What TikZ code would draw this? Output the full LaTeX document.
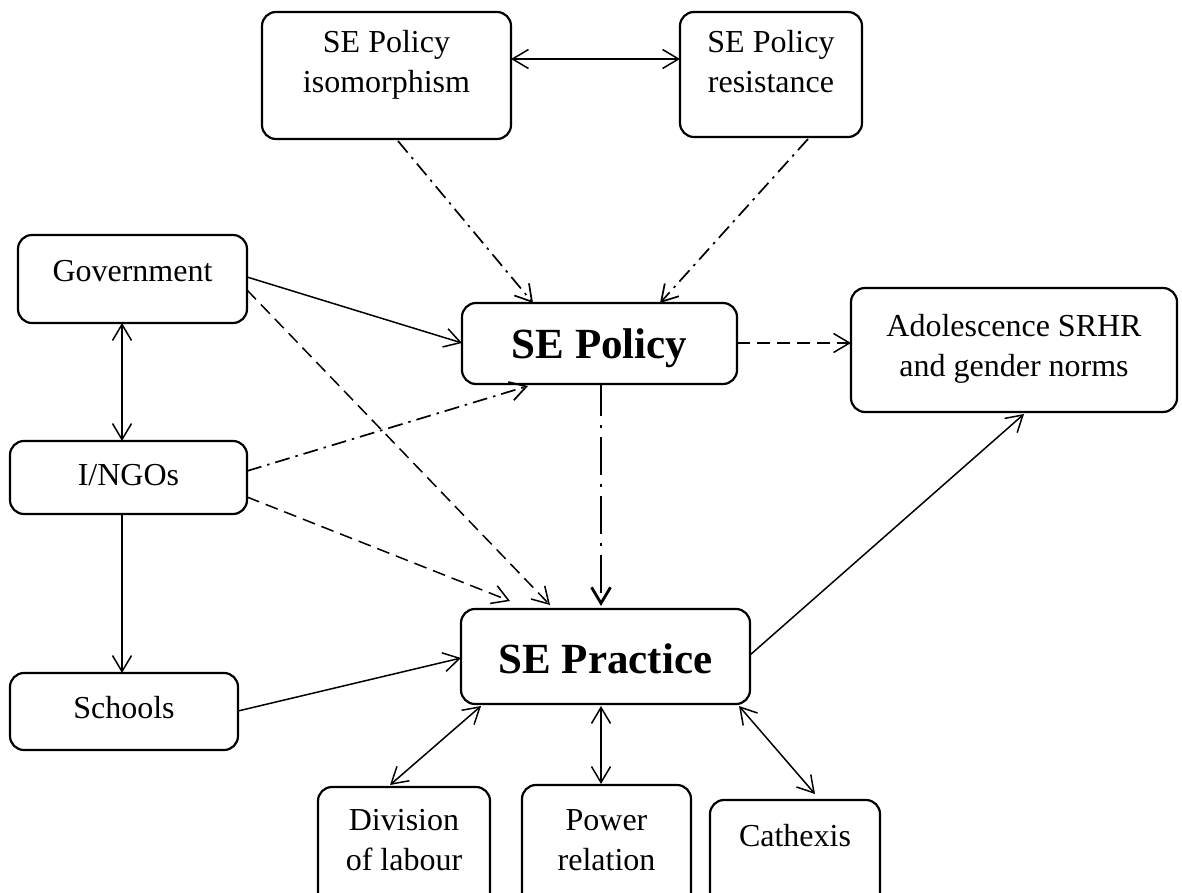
\documentclass[tikz,border=0pt]{standalone}
\usepackage{fontspec}
\setmainfont{Liberation Serif}
\usetikzlibrary{arrows.meta,calc}
\newcommand\myH[1]{\rule{0pt}{#1pt}}
\newcommand\myD[1]{\rule[-#1pt]{0pt}{#1pt}}
\begin{document}
\begin{tikzpicture}[x=1pt,y=-1pt,
 box/.style={draw, line width=2.2pt, rounded corners=14pt, inner sep=0pt, outer sep=0pt, align=center, anchor=north west, font=\fontsize{32}{40}\selectfont},
 bigbox/.style={box, font=\fontsize{43}{50}\selectfont\bfseries},
 arr/.style={line width=1.5pt, -{Straight Barb[length=16pt,width=19pt]}},
 darr/.style={line width=1.5pt, {Straight Barb[length=16pt,width=19pt]}-{Straight Barb[length=16pt,width=19pt]}},
 dashline/.style={dash pattern=on 13pt off 7pt},
 dashdot/.style={line width=1.7pt, dash pattern=on 15pt off 6pt on 2.5pt off 6pt},
 thickdashdot/.style={line width=2.8pt, dash pattern=on 38pt off 9pt on 3pt off 9pt, dash phase=6pt}]
\useasboundingbox (0,0) rectangle (1182,893);
\node[box, minimum width=249pt] (iso) at (262,12) {\myH{41}SE Policy\\isomorphism\myD{46}};
\node[box, minimum width=182pt] (res) at (680,12) {\myH{41}SE Policy\\resistance\myD{44}};
\node[box, minimum width=229pt] (gov) at (18,235) {\myH{46}Government\myD{42}};
\node[box, minimum width=237pt] (ngo) at (10,441) {\myH{44}I/NGOs\myD{29}};
\node[box, minimum width=228pt] (sch) at (10,673) {\myH{45}Schools\myD{32}};
\node[bigbox, minimum width=275pt] (pol) at (462,303) {\myH{55}SE Policy\myD{26}};
\node[bigbox, minimum width=289pt] (prac) at (461,609) {\myH{64}SE Practice\myD{31}};
\node[box, minimum width=326pt] (ado) at (851,288) {\myH{48}Adolescence SRHR\\and gender norms\myD{36}};
\node[box, minimum width=172pt] (div) at (318,787) {\myH{43}Division\\of labour\myD{40}};
\node[box, minimum width=169pt] (pow) at (522,785) {\myH{45}Power\\relation\myD{40}};
\node[box, minimum width=170pt] (cat) at (710,800) {\myH{46}Cathexis\myD{64}};
% connectors
\draw[darr] ($(iso.north east)+(0,47)$) -- ($(res.north west)+(0,47)$);
\draw[arr,dashdot] ($(iso.south west)+(136,2)$) -- ($(pol.north west)+(71,0)$);
\draw[arr,dashdot] ($(res.south west)+(128,2)$) -- ($(pol.north west)+(198,0)$);
\draw[arr] ($(gov.north east)+(0,42)$) -- ($(pol.north west)+(0,40)$);
\draw[arr,dashline] ($(gov.north east)+(0,55)$) -- ($(prac.north west)+(89,-4)$);
\draw[darr] ($(gov.south west)+(104,0)$) -- ($(ngo.north west)+(112,0)$);
\draw[arr,dashdot] ($(ngo.north east)+(0,30)$) -- ($(pol.south west)+(66,2)$);
\draw[arr,dashline] ($(ngo.north east)+(0,56)$) -- ($(prac.north west)+(49,-8)$);
\draw[arr] ($(ngo.south west)+(112,0)$) -- ($(sch.north west)+(112,0)$);
\draw[arr] ($(sch.north east)+(0,38)$) -- ($(prac.north west)+(0,49)$);
\draw[arr,thickdashdot] ($(pol.south west)+(139,0)$) -- ($(prac.north west)+(140,-3)$);
\draw[arr,dashline] ($(pol.north east)+(0,40)$) -- ($(ado.north west)+(0,55)$);
\draw[arr] ($(prac.north east)+(0,46)$) -- ($(ado.south west)+(173,2)$);
\draw[darr] ($(prac.south west)+(20,2)$) -- ($(div.north west)+(72,-2)$);
\draw[darr] ($(prac.south west)+(140,2)$) -- ($(pow.north west)+(79,-1)$);
\draw[darr] ($(prac.south west)+(278,2)$) -- ($(cat.north west)+(105,-6)$);
\end{tikzpicture}
\end{document}
